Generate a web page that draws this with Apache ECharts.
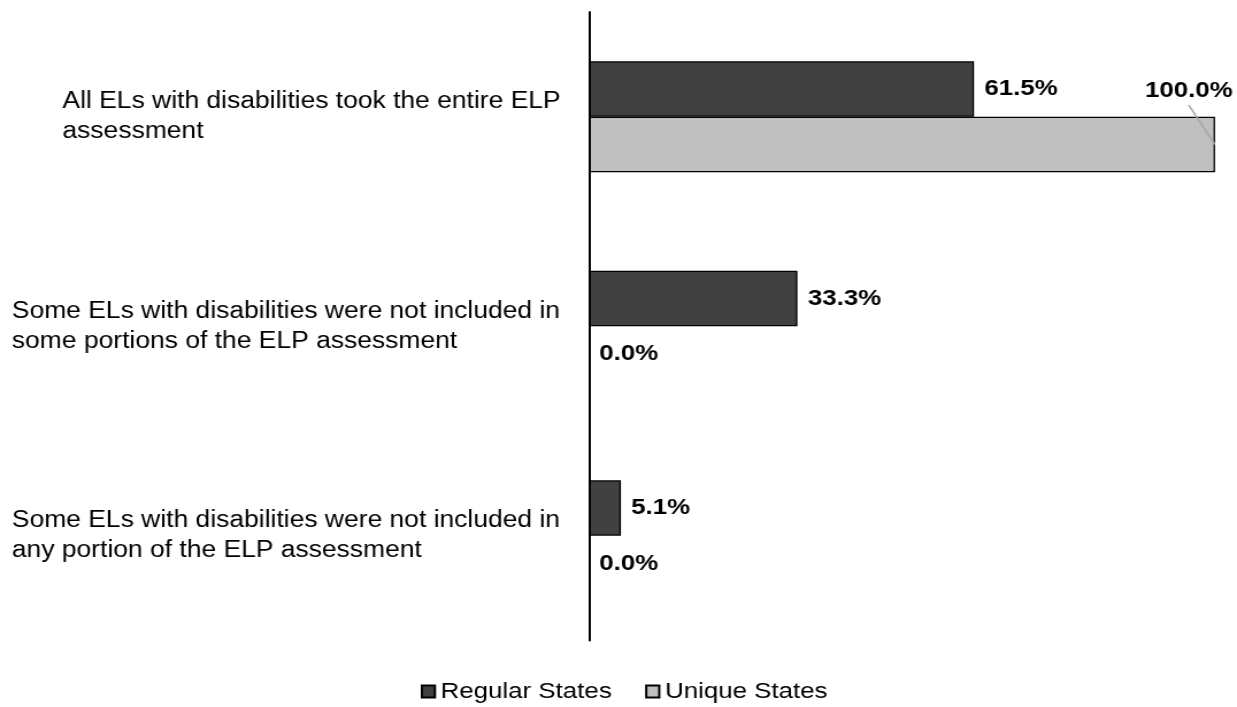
<!DOCTYPE html>
<html>
<head>
<meta charset="utf-8">
<script src="https://cdn.jsdelivr.net/npm/echarts@6/dist/echarts.min.js"></script>
<style>
  html, body { margin: 0; padding: 0; background: #fff; }
  #frame { width: 1237px; height: 707px; overflow: hidden; }
  /* the chart is laid out on a narrower canvas and widened to fill the frame */
  #chart { width: 1076px; height: 707px; transform: scaleX(1.14963); transform-origin: 0 0; }
</style>
</head>
<body>
<div id="frame"><div id="chart"></div></div>
<script>
// Survey categories (line breaks as printed)
const categories = [
  'All ELs with disabilities took the entire ELP\nassessment',
  'Some ELs with disabilities were not included in\nsome portions of the ELP assessment',
  'Some ELs with disabilities were not included in\nany portion of the ELP assessment'
];
const seriesNames = ['Regular States', 'Unique States'];
const regularStates = [61.5, 33.3, 5.1];
const uniqueStates = [100.0, 0.0, 0.0];

// per-category left indent of the axis label block
const labelIndent = [44, 0, 0];

const FONT = "'Liberation Sans', Arial, Helvetica, sans-serif";
const LABEL_DISTANCE = 9;

const valueLabel = {
  show: true,
  position: 'right',
  distance: LABEL_DISTANCE,
  fontFamily: FONT,
  fontSize: 22.5,
  fontWeight: 'bold',
  color: '#000',
  formatter: p => p.value.toFixed(1) + '%'
};

const rich = {};
labelIndent.forEach((pad, i) => {
  rich['c' + i] = {
    fontFamily: FONT, fontSize: 23, lineHeight: 30, color: '#000',
    padding: [0, 0, 0, pad]
  };
});

// zero-length bars get no outline, so only their label shows
const barItems = values => values.map(v =>
  v === 0 ? { value: v, itemStyle: { borderWidth: 0 } } : v);

// offset of the full-length bar's label, lifted above its bar
const liftedLabel = { dx: -70, dy: -54 };
let liftedLabelRect = null;

const chart = echarts.init(document.getElementById('chart'), null, { renderer: 'canvas' });

chart.setOption({
  animation: false,
  backgroundColor: '#fff',
  grid: { left: 512.3, right: 19.1, top: 12, bottom: 66.5, containLabel: false },
  xAxis: {
    type: 'value', min: 0, max: 100,
    show: false, splitLine: { show: false }
  },
  yAxis: {
    type: 'category',
    data: categories,
    inverse: true,
    z: 5,
    axisLine: { show: true, lineStyle: { color: '#000', width: 2 } },
    axisTick: { show: false },
    axisLabel: {
      align: 'left',
      margin: 502,
      formatter: (value, idx) =>
        value.split('\n').map(line => '{c' + idx + '|' + line + '}').join('\n'),
      rich: rich
    }
  },
  legend: {
    data: seriesNames,
    left: 361,
    top: 675,
    icon: 'rect',
    itemWidth: 11.3,
    itemHeight: 12,
    itemGap: 29,
    textStyle: { fontFamily: FONT, fontSize: 22.5, color: '#000' }
  },
  series: [
    {
      name: seriesNames[0],
      type: 'bar',
      data: barItems(regularStates),
      barGap: '0%',
      barCategoryGap: '47%',
      itemStyle: { color: '#404040', borderColor: '#000', borderWidth: 1.3 },
      label: valueLabel
    },
    {
      name: seriesNames[1],
      type: 'bar',
      data: barItems(uniqueStates),
      barGap: '0%',
      barCategoryGap: '47%',
      itemStyle: { color: '#c0c0c0', borderColor: '#000', borderWidth: 1.3 },
      label: valueLabel,
      labelLayout: function (params) {
        if (params.dataIndex !== 0) return {};
        liftedLabelRect = params.labelRect;
        return { dx: liftedLabel.dx, dy: liftedLabel.dy };
      }
    }
  ]
});

// leader line from the lifted label down to the end of its bar
const barRect = chart.getModel().getSeriesByIndex(1).getData().getItemLayout(0);
if (barRect && liftedLabelRect) {
  const lr = liftedLabelRect;
  chart.setOption({
    graphic: [{
      type: 'line',
      z: 100,
      silent: true,
      shape: {
        x1: lr.x + liftedLabel.dx + lr.width / 2,
        y1: lr.y + liftedLabel.dy + lr.height + 3,
        x2: barRect.x + barRect.width,
        y2: barRect.y + barRect.height / 2
      },
      style: { stroke: '#a6a6a6', lineWidth: 1.5 }
    }]
  });
}
</script>
</body>
</html>
